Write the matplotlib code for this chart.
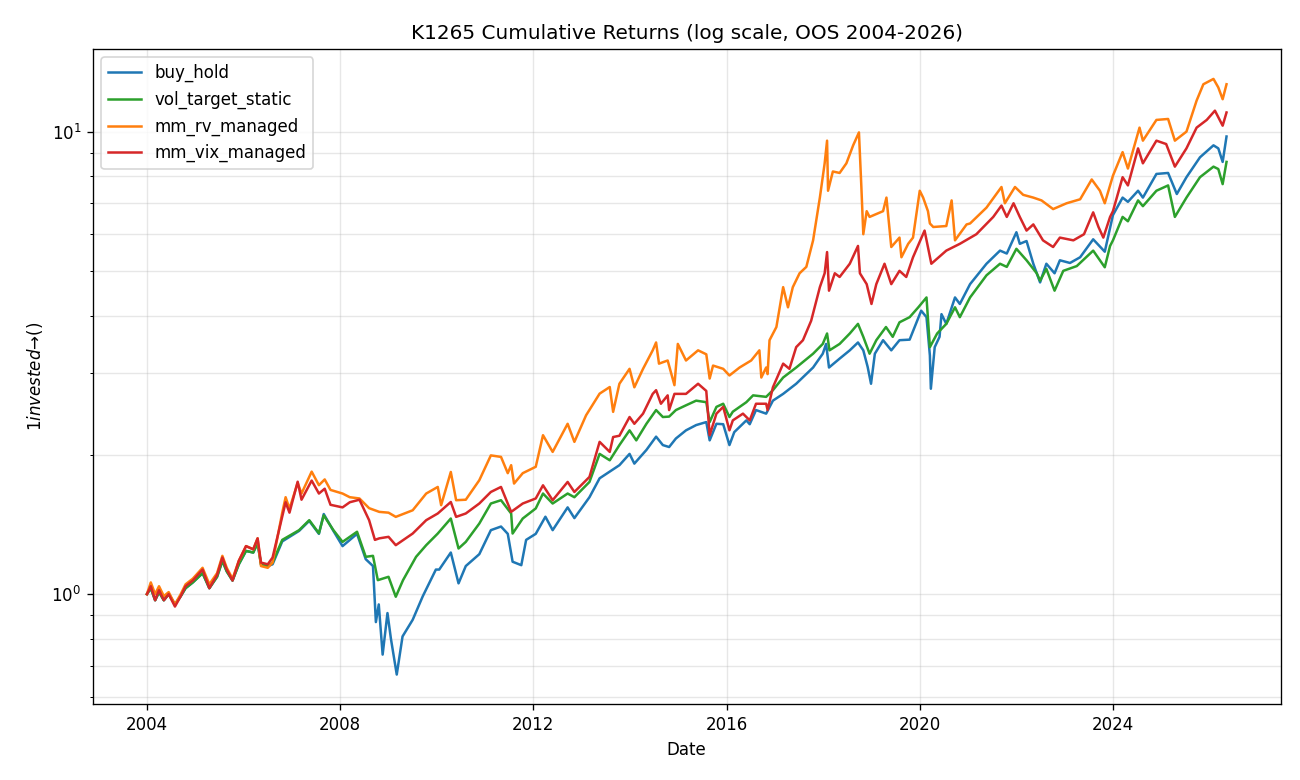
import numpy as np
import pandas as pd
import matplotlib
matplotlib.use('Agg')
import matplotlib.pyplot as plt
import matplotlib.dates as mdates

# ---- data (decimal years, growth of $1) ----
buy_hold_t = [2004.00, 2004.08, 2004.17, 2004.25, 2004.35, 2004.45, 2004.58, 2004.70, 2004.80, 2004.95,
              2005.15, 2005.29, 2005.45, 2005.56, 2005.65, 2005.77, 2005.90, 2006.05, 2006.20, 2006.29,
              2006.36, 2006.50, 2006.60, 2006.80, 2007.15, 2007.36, 2007.56, 2007.66, 2007.86, 2008.05,
              2008.35, 2008.53, 2008.68, 2008.74, 2008.80, 2008.88, 2008.98, 2009.05, 2009.17, 2009.29,
              2009.50, 2009.71, 2009.98, 2010.05, 2010.29, 2010.45, 2010.60, 2010.88, 2011.12, 2011.33,
              2011.47, 2011.57, 2011.75, 2011.85, 2012.05, 2012.25, 2012.40, 2012.71, 2012.85, 2013.16,
              2013.37, 2013.58, 2013.78, 2013.99, 2014.09, 2014.34, 2014.54, 2014.68, 2014.81, 2014.95,
              2015.16, 2015.37, 2015.58, 2015.65, 2015.79, 2015.93, 2016.06, 2016.16, 2016.41, 2016.48,
              2016.61, 2016.82, 2016.96, 2017.17, 2017.44, 2017.79, 2017.99, 2018.06, 2018.12, 2018.34,
              2018.55, 2018.72, 2018.83, 2018.92, 2018.99, 2019.07, 2019.24, 2019.41, 2019.58, 2019.79,
              2020.03, 2020.14, 2020.21, 2020.23, 2020.31, 2020.41, 2020.45, 2020.55, 2020.73, 2020.83,
              2021.04, 2021.38, 2021.66, 2021.80, 2022.00, 2022.07, 2022.21, 2022.35, 2022.49, 2022.62,
              2022.79, 2022.90, 2023.11, 2023.32, 2023.59, 2023.83, 2024.00, 2024.20, 2024.31, 2024.52,
              2024.62, 2024.90, 2025.14, 2025.32, 2025.52, 2025.80, 2026.08, 2026.18, 2026.27, 2026.35]
buy_hold = [1.00, 1.03, 0.97, 1.01, 0.97, 1.00, 0.95, 0.99, 1.03, 1.06,
            1.11, 1.03, 1.09, 1.18, 1.12, 1.07, 1.16, 1.24, 1.23, 1.29,
            1.16, 1.15, 1.16, 1.30, 1.37, 1.44, 1.35, 1.49, 1.37, 1.27,
            1.35, 1.19, 1.15, 0.87, 0.95, 0.74, 0.91, 0.80, 0.67, 0.81,
            0.88, 0.99, 1.13, 1.13, 1.23, 1.055, 1.15, 1.22, 1.375, 1.40,
            1.35, 1.175, 1.155, 1.31, 1.35, 1.47, 1.375, 1.54, 1.46, 1.62,
            1.78, 1.84, 1.90, 2.01, 1.915, 2.05, 2.19, 2.10, 2.08, 2.17,
            2.26, 2.32, 2.355, 2.15, 2.335, 2.33, 2.10, 2.24, 2.375, 2.33,
            2.50, 2.456, 2.62, 2.71, 2.85, 3.09, 3.31, 3.475, 3.09, 3.23,
            3.366, 3.50, 3.366, 3.10, 2.85, 3.31, 3.54, 3.366, 3.54, 3.55,
            4.10, 3.97, 3.28, 2.78, 3.42, 3.60, 4.03, 3.84, 4.38, 4.24,
            4.68, 5.18, 5.53, 5.45, 6.06, 5.72, 5.80, 5.18, 4.72, 5.18,
            4.94, 5.27, 5.20, 5.35, 5.85, 5.50, 6.60, 7.20, 7.05, 7.45,
            7.20, 8.10, 8.14, 7.33, 7.97, 8.80, 9.34, 9.20, 8.60, 9.76]

vol_target_t = [2004.00, 2004.08, 2004.17, 2004.25, 2004.35, 2004.45, 2004.58, 2004.70, 2004.80, 2004.95,
                2005.15, 2005.29, 2005.45, 2005.56, 2005.65, 2005.77, 2005.90, 2006.05, 2006.20, 2006.29,
                2006.36, 2006.50, 2006.60, 2006.80, 2007.15, 2007.36, 2007.56, 2007.66, 2007.86, 2008.05,
                2008.35, 2008.53, 2008.68, 2008.78, 2009.00, 2009.15, 2009.30, 2009.57, 2009.78, 2010.02,
                2010.29, 2010.45, 2010.60, 2010.88, 2011.12, 2011.33, 2011.54, 2011.57, 2011.78, 2012.05,
                2012.20, 2012.40, 2012.71, 2012.85, 2013.16, 2013.37, 2013.58, 2013.78, 2013.99, 2014.13,
                2014.34, 2014.54, 2014.68, 2014.81, 2014.95, 2015.16, 2015.37, 2015.58, 2015.65, 2015.79,
                2015.93, 2016.06, 2016.13, 2016.41, 2016.55, 2016.82, 2016.96, 2017.17, 2017.44, 2017.79,
                2017.99, 2018.08, 2018.13, 2018.34, 2018.55, 2018.72, 2018.83, 2018.96, 2019.10, 2019.30,
                2019.44, 2019.58, 2019.79, 2019.97, 2020.14, 2020.21, 2020.36, 2020.55, 2020.73, 2020.83,
                2021.04, 2021.38, 2021.66, 2021.80, 2022.00, 2022.21, 2022.42, 2022.49, 2022.62, 2022.79,
                2022.97, 2023.25, 2023.59, 2023.83, 2023.94, 2024.00, 2024.20, 2024.31, 2024.52, 2024.62,
                2024.90, 2025.14, 2025.28, 2025.52, 2025.80, 2026.08, 2026.18, 2026.27, 2026.35]
vol_target_static = [1.00, 1.03, 0.97, 1.01, 0.97, 1.00, 0.95, 0.99, 1.03, 1.06,
                     1.11, 1.03, 1.09, 1.18, 1.12, 1.07, 1.16, 1.24, 1.23, 1.29,
                     1.16, 1.15, 1.17, 1.31, 1.375, 1.445, 1.354, 1.48, 1.375, 1.297,
                     1.364, 1.204, 1.21, 1.072, 1.09, 0.987, 1.072, 1.204, 1.276, 1.352,
                     1.457, 1.255, 1.297, 1.421, 1.57, 1.596, 1.494, 1.352, 1.457, 1.532,
                     1.65, 1.57, 1.65, 1.62, 1.748, 2.01, 1.947, 2.10, 2.26, 2.15,
                     2.335, 2.50, 2.415, 2.42, 2.50, 2.56, 2.62, 2.60, 2.355, 2.54,
                     2.58, 2.415, 2.48, 2.60, 2.69, 2.67, 2.76, 2.94, 3.09, 3.31,
                     3.475, 3.66, 3.366, 3.475, 3.66, 3.84, 3.60, 3.31, 3.54, 3.78,
                     3.60, 3.87, 3.97, 4.17, 4.38, 3.42, 3.66, 3.84, 4.17, 3.97,
                     4.38, 4.89, 5.18, 5.10, 5.58, 5.27, 4.94, 4.76, 5.05, 4.53,
                     5.00, 5.12, 5.53, 5.09, 5.66, 5.82, 6.54, 6.40, 7.10, 6.90,
                     7.45, 7.65, 6.54, 7.20, 7.97, 8.40, 8.30, 7.70, 8.60]

mm_rv_t = [2004.00, 2004.08, 2004.17, 2004.25, 2004.35, 2004.45, 2004.58, 2004.70, 2004.80, 2004.95,
           2005.15, 2005.29, 2005.45, 2005.56, 2005.65, 2005.77, 2005.90, 2006.05, 2006.20, 2006.29,
           2006.36, 2006.50, 2006.60, 2006.80, 2006.87, 2006.95, 2007.12, 2007.20, 2007.41, 2007.56,
           2007.68, 2007.80, 2008.05, 2008.20, 2008.40, 2008.60, 2008.81, 2009.00, 2009.15, 2009.50,
           2009.78, 2010.02, 2010.09, 2010.29, 2010.40, 2010.60, 2010.88, 2011.12, 2011.33, 2011.47,
           2011.54, 2011.60, 2011.78, 2012.05, 2012.20, 2012.40, 2012.71, 2012.85, 2013.09, 2013.37,
           2013.58, 2013.65, 2013.78, 2013.99, 2014.09, 2014.27, 2014.47, 2014.54, 2014.60, 2014.78,
           2014.92, 2014.99, 2015.16, 2015.41, 2015.58, 2015.65, 2015.72, 2015.93, 2016.06, 2016.27,
           2016.51, 2016.68, 2016.72, 2016.82, 2016.85, 2016.89, 2017.03, 2017.17, 2017.27, 2017.37,
           2017.51, 2017.65, 2017.79, 2017.93, 2018.03, 2018.08, 2018.10, 2018.20, 2018.34, 2018.48,
           2018.62, 2018.74, 2018.79, 2018.83, 2018.90, 2018.96, 2019.24, 2019.31, 2019.41, 2019.58,
           2019.62, 2019.76, 2019.86, 2020.00, 2020.07, 2020.17, 2020.21, 2020.28, 2020.55, 2020.66,
           2020.73, 2020.97, 2021.04, 2021.38, 2021.69, 2021.76, 2021.97, 2022.14, 2022.35, 2022.52,
           2022.76, 2023.04, 2023.32, 2023.56, 2023.73, 2023.83, 2024.00, 2024.20, 2024.31, 2024.55,
           2024.62, 2024.90, 2025.14, 2025.28, 2025.52, 2025.73, 2025.87, 2026.08, 2026.18, 2026.27,
           2026.35]
mm_rv_managed = [1.00, 1.06, 1.00, 1.04, 0.99, 1.01, 0.95, 1.00, 1.05, 1.08,
                 1.14, 1.05, 1.11, 1.21, 1.14, 1.08, 1.18, 1.27, 1.25, 1.32,
                 1.15, 1.14, 1.17, 1.50, 1.62, 1.53, 1.74, 1.65, 1.84, 1.72,
                 1.77, 1.68, 1.65, 1.62, 1.61, 1.534, 1.506, 1.50, 1.469, 1.518,
                 1.65, 1.705, 1.557, 1.837, 1.596, 1.60, 1.763, 1.995, 1.98, 1.826,
                 1.90, 1.734, 1.826, 1.885, 2.206, 2.03, 2.335, 2.134, 2.436, 2.713,
                 2.804, 2.478, 2.85, 3.07, 2.80, 3.07, 3.366, 3.50, 3.15, 3.20,
                 2.83, 3.475, 3.20, 3.366, 3.30, 2.925, 3.12, 3.07, 2.97, 3.09,
                 3.20, 3.366, 2.94, 3.09, 2.99, 3.54, 3.78, 4.61, 4.17, 4.61,
                 4.94, 5.10, 5.82, 7.20, 8.54, 9.56, 7.45, 8.20, 8.14, 8.54,
                 9.34, 9.96, 7.59, 6.00, 6.73, 6.54, 6.73, 7.20, 5.63, 5.90,
                 5.35, 5.72, 5.90, 7.45, 7.20, 6.73, 6.33, 6.22, 6.25, 7.10,
                 5.82, 6.30, 6.33, 6.85, 7.59, 7.00, 7.59, 7.30, 7.20, 7.10,
                 6.80, 7.00, 7.14, 7.88, 7.45, 7.00, 8.03, 9.03, 8.32, 10.20,
                 9.56, 10.60, 10.65, 9.56, 10.00, 11.67, 12.66, 13.00, 12.46, 11.75,
                 12.66]

mm_vix_t = [2004.00, 2004.08, 2004.17, 2004.25, 2004.35, 2004.45, 2004.58, 2004.70, 2004.80, 2004.95,
            2005.15, 2005.29, 2005.45, 2005.56, 2005.65, 2005.77, 2005.90, 2006.05, 2006.20, 2006.29,
            2006.36, 2006.50, 2006.60, 2006.80, 2006.87, 2006.95, 2007.12, 2007.20, 2007.41, 2007.56,
            2007.68, 2007.80, 2008.05, 2008.20, 2008.40, 2008.60, 2008.72, 2008.81, 2009.00, 2009.15,
            2009.50, 2009.78, 2010.02, 2010.29, 2010.40, 2010.60, 2010.88, 2011.12, 2011.33, 2011.54,
            2011.78, 2012.05, 2012.20, 2012.40, 2012.71, 2012.85, 2013.16, 2013.37, 2013.58, 2013.65,
            2013.78, 2013.99, 2014.09, 2014.27, 2014.47, 2014.54, 2014.64, 2014.78, 2014.81, 2014.92,
            2015.16, 2015.41, 2015.58, 2015.65, 2015.79, 2015.93, 2016.06, 2016.13, 2016.34, 2016.48,
            2016.61, 2016.82, 2016.85, 2016.96, 2017.17, 2017.30, 2017.44, 2017.58, 2017.75, 2017.93,
            2018.03, 2018.08, 2018.12, 2018.24, 2018.34, 2018.55, 2018.72, 2018.76, 2018.90, 2019.00,
            2019.10, 2019.27, 2019.41, 2019.58, 2019.72, 2019.86, 2020.10, 2020.24, 2020.55, 2020.83,
            2021.17, 2021.52, 2021.69, 2021.80, 2021.94, 2022.07, 2022.21, 2022.35, 2022.55, 2022.76,
            2022.90, 2023.18, 2023.40, 2023.59, 2023.70, 2023.80, 2023.94, 2024.00, 2024.20, 2024.31,
            2024.52, 2024.62, 2024.90, 2025.10, 2025.28, 2025.52, 2025.73, 2025.94, 2026.11, 2026.27,
            2026.35]
mm_vix_managed = [1.00, 1.04, 0.97, 1.02, 0.97, 1.00, 0.94, 0.99, 1.04, 1.07,
                  1.13, 1.03, 1.10, 1.20, 1.13, 1.07, 1.18, 1.27, 1.25, 1.32,
                  1.17, 1.16, 1.20, 1.47, 1.58, 1.50, 1.75, 1.60, 1.76, 1.65,
                  1.69, 1.56, 1.54, 1.58, 1.60, 1.445, 1.31, 1.32, 1.33, 1.276,
                  1.352, 1.445, 1.494, 1.582, 1.469, 1.494, 1.57, 1.663, 1.705, 1.506,
                  1.57, 1.61, 1.719, 1.596, 1.748, 1.663, 1.792, 2.134, 2.03, 2.186,
                  2.20, 2.415, 2.335, 2.456, 2.71, 2.76, 2.58, 2.69, 2.50, 2.71,
                  2.71, 2.85, 2.75, 2.206, 2.456, 2.54, 2.26, 2.375, 2.456, 2.375,
                  2.58, 2.58, 2.50, 2.80, 3.15, 3.07, 3.42, 3.54, 3.90, 4.61,
                  4.94, 5.49, 4.53, 4.94, 4.85, 5.18, 5.66, 4.94, 4.68, 4.24,
                  4.68, 5.18, 4.68, 5.00, 4.85, 5.35, 6.11, 5.18, 5.53, 5.72,
                  6.00, 6.54, 6.92, 6.54, 7.00, 6.54, 6.11, 6.30, 5.82, 5.63,
                  5.90, 5.82, 6.00, 6.69, 6.22, 5.90, 6.54, 6.73, 7.97, 7.65,
                  9.20, 8.54, 9.56, 9.40, 8.40, 9.20, 10.20, 10.60, 11.10, 10.30,
                  11.00]


def to_dates(years):
    """decimal years -> timestamps"""
    out = []
    for y in years:
        yr = int(y)
        out.append(pd.Timestamp(year=yr, month=1, day=1) + pd.Timedelta(days=(y - yr) * 365.25))
    return out


series = [
    ('buy_hold', buy_hold_t, buy_hold, 'tab:blue'),
    ('vol_target_static', vol_target_t, vol_target_static, 'tab:green'),
    ('mm_rv_managed', mm_rv_t, mm_rv_managed, 'tab:orange'),
    ('mm_vix_managed', mm_vix_t, mm_vix_managed, 'tab:red'),
]

fig, ax = plt.subplots(figsize=(1300 / 120, 780 / 120), dpi=120)
fig.subplots_adjust(left=0.0715, right=0.985, top=0.937, bottom=0.097)

for name, t, vals, color in series:
    ax.plot(to_dates(t), vals, color=color, lw=1.5, label=name)

ax.set_yscale('log')
ax.xaxis.set_major_locator(mdates.YearLocator(4))
ax.xaxis.set_major_formatter(mdates.DateFormatter('%Y'))
ax.set_title('K1265 Cumulative Returns (log scale, OOS 2004-2026)')
ax.set_xlabel('Date')
ax.set_ylabel('$1 invested → ($)')
ax.grid(True, which='both', alpha=0.3)
ax.legend(loc='upper left')

fig.savefig('out.png', dpi=120)
